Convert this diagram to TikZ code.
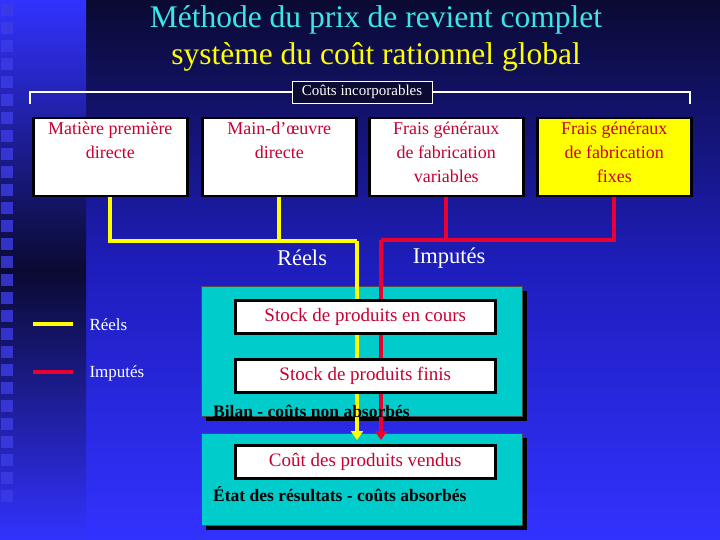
\documentclass[tikz,border=0pt]{standalone}
\usepackage{fontspec}
\setmainfont{Liberation Serif}
\usetikzlibrary{arrows.meta}
\definecolor{crim}{RGB}{200,0,50}
\definecolor{teal1}{RGB}{0,204,204}
\definecolor{yel}{RGB}{255,255,0}
\definecolor{redl}{RGB}{235,0,50}
\definecolor{navy}{RGB}{10,10,50}
\definecolor{bblue}{RGB}{50,50,255}
\definecolor{midb}{RGB}{30,30,190}
\definecolor{sqb}{RGB}{60,60,230}
\definecolor{cyant}{RGB}{60,230,230}
\begin{document}
\begin{tikzpicture}[x=1pt,y=-1pt,
  topbox/.style={draw=black,line width=2.5pt,fill=white,minimum width=154pt,minimum height=78pt,anchor=north west},
  boxtxt/.style={anchor=north,inner sep=0pt,align=center,text=crim,font=\fontsize{18}{24}\selectfont},
  inbox/.style={draw=black,line width=2.5pt,fill=white,minimum width=260pt,minimum height=33pt,anchor=north west,text=crim,font=\fontsize{19}{22}\selectfont},
  panel/.style={fill=teal1,draw=black!70,line width=0.6pt,anchor=north west},
  ylw/.style={yel,line width=4pt},
  rd/.style={redl,line width=4pt},
  wt/.style={text=white,font=\fontsize{22.5}{26}\selectfont},
  lg/.style={text=white,font=\fontsize{17}{20}\selectfont,anchor=west},
  pl/.style={text=black,font=\bfseries\fontsize{17.5}{20}\selectfont,anchor=west,inner sep=0pt}]
\useasboundingbox (0,0) rectangle (720,540);
\shade[top color=navy,bottom color=bblue,middle color=midb] (0,0) rectangle (720,540);
\shade[top color=bblue,bottom color=bblue,middle color=navy] (0,0) rectangle (86,540);
\foreach \i in {0,...,27} {\fill[sqb,opacity=0.8] (1,4+\i*18) rectangle (13,16+\i*18);}
% title
\node[text=cyant,font=\fontsize{31.5}{34}\selectfont] (t1) at (376,20) {Méthode du prix de revient complet};
\node[text=yel,font=\fontsize{31.5}{34}\selectfont] (t2) at (376,57) {système du coût rationnel global};
% bracket
\coordinate (bl) at (30,104); \coordinate (br) at (690,104);
\draw[white,line width=1.2pt] (bl) -- ++(0,-12) -- ([yshift=12pt]br) -- (br);
\node[draw=white,fill=navy,text=white,font=\fontsize{15}{17}\selectfont,minimum width=140pt,minimum height=22pt,inner xsep=3pt] (ci) at (362,92) {Coûts incorporables};
% top boxes
\node[topbox] (m) at (32,117) {};
\node[topbox] (mo) at (201,117) {};
\node[topbox] (fv) at (368,117) {};
\node[topbox,fill=yel] (ff) at (536,117) {};
\node[boxtxt] (mt) at ([yshift=-5pt]m.north) {Matière première\\directe};
\node[boxtxt] (mot) at ([yshift=-5pt]mo.north) {Main-d’œuvre\\directe};
\node[boxtxt] (fvt) at ([yshift=-5pt]fv.north) {Frais généraux\\de fabrication\\variables};
\node[boxtxt] (fft) at ([yshift=-5pt]ff.north) {Frais généraux\\de fabrication\\fixes};
% panels
\fill[black] (206,291) rectangle (527,421);
\node[panel,minimum width=321pt,minimum height=130pt] (p1) at (201,286) {};
\fill[black] (206,438) rectangle (527,530);
\node[panel,minimum width=321pt,minimum height=92pt] (p2) at (201,433) {};
% connectors
\coordinate (yj) at (357,241); \coordinate (rj) at (381,240);
\coordinate (ye) at (357,440); \coordinate (re) at (381,440);
\draw[ylw] (m.south) |- (yj);
\draw[ylw] (mo.south) -- (mo.south |- yj);
\draw[ylw,-{Triangle[length=9pt,width=12pt]}] (yj) -- (ye);
\draw[rd] (ff.south) |- (rj);
\draw[rd] (fv.south) -- (fv.south |- rj);
\draw[rd,-{Triangle[length=9pt,width=12pt]}] (rj) -- (re);
% inner boxes
\node[inbox] (s1) at (234,299) {Stock de produits en cours};
\node[inbox] (s2) at (234,358) {Stock de produits finis};
\node[inbox] (s3) at (234,444) {Coût des produits vendus};
\node[pl] (b1) at (213,411) {Bilan - coûts non absorbés};
\node[pl] (b2) at (213,494) {État des résultats - coûts absorbés};
% labels
\node[wt] (lr) at (302,258) {Réels};
\node[wt] (li) at (449,258) {Imputés};
% legend
\coordinate (ly1) at (33,324); \coordinate (ly2) at (73,324);
\coordinate (lr1) at (33,372); \coordinate (lr2) at (73,372);
\draw[ylw] (ly1) -- (ly2);
\draw[rd] (lr1) -- (lr2);
\node[lg] (lgr) at (86,325) {Réels};
\node[lg] (lgi) at (86,373) {Imputés};
\end{tikzpicture}
\end{document}
